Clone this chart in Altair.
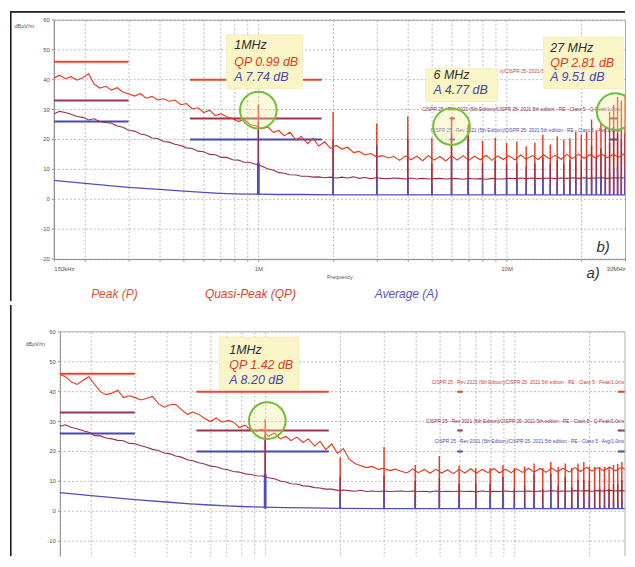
import altair as alt
import pandas as pd

FONT = "Liberation Sans"

# ---------------- data (frequencies in MHz, levels in dBµV/m) ----------------
FREQ = [
    0.150, 0.158, 0.167, 0.176, 0.186, 0.196, 0.207, 0.218, 0.230, 0.243,
    0.256, 0.270, 0.285, 0.301, 0.317, 0.335, 0.353, 0.373, 0.393, 0.415,
    0.437, 0.461, 0.487, 0.513, 0.542, 0.571, 0.603, 0.636, 0.671, 0.708,
    0.746, 0.788, 0.831, 0.876, 0.925, 0.975, 1.03, 1.09, 1.15, 1.21,
    1.27, 1.34, 1.42, 1.49, 1.58, 1.66, 1.75, 1.85, 1.95, 2.06,
    2.17, 2.29, 2.42, 2.55, 2.69, 2.84, 2.99, 3.16, 3.33, 3.51,
    3.71, 3.91, 4.12, 4.35, 4.59, 4.84, 5.11, 5.39, 5.69, 6.00,
    6.33, 6.68, 7.04, 7.43, 7.84, 8.27, 8.72, 9.20, 9.71, 10.2,
    10.8, 11.4, 12.0, 12.7, 13.4, 14.1, 14.9, 15.7, 16.6, 17.5,
    18.4, 19.5, 20.5, 21.7, 22.9, 24.1, 25.5, 26.9, 28.3, 29.9,
]

TOP_PEAK = [
    40.5, 41.5, 40.3, 41.0, 39.8, 40.6, 42.0, 38.5, 37.2, 37.8,
    36.5, 37.3, 35.8, 35.2, 34.5, 35.3, 33.8, 34.4, 33.2, 33.6,
    32.8, 33.2, 31.6, 32.0, 30.2, 30.6, 29.0, 29.8, 28.0, 28.6,
    27.6, 27.0, 26.0, 26.8, 25.0, 24.6, 23.5, 24.2, 22.4, 23.0,
    21.2, 22.4, 19.8, 21.0, 18.6, 20.4, 17.8, 19.2, 17.0, 18.0,
    16.8, 17.4, 15.6, 16.0, 14.8, 15.3, 14.2, 14.6, 13.8, 14.3,
    13.0, 14.5, 13.2, 14.4, 12.9, 14.6, 13.1, 14.3, 12.8, 14.5,
    13.1, 14.6, 13.0, 14.4, 13.2, 14.7, 13.0, 14.5, 13.3, 14.6,
    13.2, 14.8, 13.4, 14.6, 13.3, 14.9, 13.5, 14.7, 13.4, 15.0,
    13.6, 15.1, 13.7, 14.9, 13.8, 15.2, 13.9, 15.0, 14.0, 15.3,
]

TOP_QP = [
    28.5, 29.4, 29.0, 28.4, 27.7, 27.4, 26.5, 26.9, 25.9, 25.7,
    25.4, 24.5, 24.1, 23.0, 22.8, 21.8, 21.5, 20.5, 20.3, 19.3,
    19.1, 18.4, 18.0, 17.2, 17.0, 16.1, 15.9, 15.0, 14.9, 14.0,
    14.0, 13.2, 13.1, 12.4, 12.3, 11.7, 11.1, 10.2, 9.7, 8.9,
    8.7, 8.2, 8.1, 7.7, 7.7, 7.4, 7.5, 7.2, 7.4, 7.1,
    7.4, 7.1, 7.5, 7.0, 7.3, 6.9, 7.2, 7.0, 6.9, 7.1,
    7.0, 6.8, 7.1, 6.8, 7.0, 6.8, 6.9, 7.0, 6.8, 6.9,
    6.9, 6.7, 7.0, 6.8, 6.9, 6.7, 7.0, 6.8, 6.8, 7.0,
    6.9, 7.1, 6.9, 7.1, 6.9, 7.0, 7.1, 6.9, 7.1, 7.0,
    7.2, 7.0, 7.2, 7.0, 7.1, 7.2, 7.0, 7.2, 7.1, 7.2,
]

AVG_FREQ = [0.15, 0.2, 0.3, 0.4, 0.5, 0.6, 0.7, 0.8, 0.9, 0.98,
            1.2, 1.5, 2.0, 3.0, 5.0, 10.0, 20.0, 30.0]
TOP_AVG = [6.3, 5.3, 4.0, 3.3, 2.7, 2.3, 2.0, 1.8, 1.7, 1.7,
           1.6, 1.6, 1.5, 1.5, 1.5, 1.5, 1.5, 1.5]

HARM = [1, 2, 3, 4, 5, 6, 7, 8, 9, 10,
        11, 12, 13, 14, 15, 16, 17, 18, 19, 20,
        21, 22, 23, 24, 25, 26, 27, 28, 29, 30]

TOP_H_PEAK = [31.7, 29.3, 25.4, 27.7, 20.5, 27.7, 25.0, 19.5, 20.5, 18.8,
              19.3, 17.7, 19.0, 21.6, 18.3, 21.0, 20.0, 20.4, 22.7, 21.7,
              22.5, 26.7, 23.0, 25.4, 24.0, 29.3, 31.6, 34.3, 33.0, 35.0]
TOP_H_QP = [26.0, 20.0, 18.0, 20.0, 12.0, 22.0, 22.0, 12.0, 13.0, 12.0,
            12.0, 11.0, 12.0, 14.0, 12.0, 13.0, 12.0, 13.0, 14.0, 13.0,
            14.0, 18.0, 14.0, 17.0, 15.0, 19.0, 24.2, 22.0, 20.0, 22.0]
TOP_H_AVG = [12.3, 9.0, 7.0, 8.0, 5.0, 15.2, 7.0, 5.0, 5.0, 6.0,
             6.0, 5.0, 5.0, 7.0, 5.0, 6.0, 5.0, 6.0, 7.0, 6.0,
             7.0, 8.0, 7.0, 8.0, 7.0, 9.0, 10.5, 11.0, 9.0, 10.0]
TOP_BASE = 1.5

BOT_PEAK = [
    45.7, 45.0, 43.2, 42.4, 43.8, 45.0, 42.4, 40.0, 39.0, 39.5,
    40.5, 38.0, 38.6, 38.0, 37.2, 37.8, 38.4, 36.0, 34.8, 35.6,
    35.8, 34.0, 32.4, 33.2, 32.4, 31.0, 30.0, 31.2, 29.8, 30.4,
    29.8, 28.0, 28.8, 27.2, 26.8, 27.5, 25.0, 26.2, 24.2, 25.0,
    23.6, 24.8, 23.0, 24.2, 21.8, 23.4, 20.6, 22.5, 19.4, 21.0,
    17.5, 16.0, 15.2, 14.6, 15.0, 14.0, 14.4, 13.6, 14.1, 13.4,
    12.8, 14.2, 12.9, 14.0, 12.7, 14.1, 12.8, 13.9, 12.6, 14.0,
    12.8, 14.2, 12.7, 14.0, 12.9, 14.3, 12.8, 14.1, 12.9, 14.2,
    13.0, 14.4, 13.1, 14.3, 13.0, 14.5, 13.2, 14.4, 13.1, 14.6,
    13.3, 14.7, 13.4, 14.6, 13.5, 14.8, 13.5, 14.7, 13.6, 14.9,
]

BOT_QP = [
    28.4, 28.9, 28.0, 27.6, 26.9, 26.4, 25.3, 25.2, 24.5, 24.2,
    23.7, 23.6, 22.7, 22.6, 21.9, 21.4, 20.7, 20.3, 19.5, 19.2,
    18.5, 18.1, 17.2, 16.9, 16.2, 15.8, 15.1, 14.9, 14.2, 13.9,
    13.3, 13.1, 12.5, 12.3, 11.9, 11.8, 11.2, 10.9, 10.1, 9.8,
    9.2, 9.1, 8.5, 8.4, 7.9, 7.8, 7.4, 7.4, 7.0, 7.1,
    6.9, 6.7, 7.0, 6.6, 6.8, 6.6, 6.8, 6.6, 6.7, 6.8,
    6.6, 6.8, 6.6, 6.7, 6.5, 6.8, 6.6, 6.7, 6.6, 6.8,
    6.6, 6.7, 6.5, 6.8, 6.6, 6.7, 6.6, 6.8, 6.6, 6.7,
    6.7, 6.8, 6.6, 6.8, 6.7, 6.9, 6.7, 6.8, 6.7, 6.9,
    6.8, 6.9, 6.7, 6.9, 6.8, 7.0, 6.8, 6.9, 6.8, 7.0,
]

BOT_AVG = [6.2, 5.2, 3.9, 3.1, 2.5, 2.1, 1.8, 1.6, 1.5, 1.4,
           1.2, 1.1, 1.0, 0.9, 0.9, 0.9, 0.9, 0.9]

BOT_H_PEAK = [30.8, 18.0, 21.5, 15.5, 18.5, 15.2, 14.5, 14.5, 15.5, 14.5,
              15.0, 16.0, 14.5, 16.5, 14.8, 16.0, 14.5, 16.0, 16.5, 15.0,
              14.8, 14.8, 14.8, 14.8, 15.5, 15.8, 16.5, 17.0, 17.5, 25.0]
BOT_H_QP = [25.6, 11.5, 12.0, 10.2, 11.0, 9.2, 9.2, 9.2, 11.5, 7.5,
            8.5, 12.5, 7.5, 12.5, 8.5, 11.5, 8.0, 10.5, 10.5, 10.0,
            7.5, 7.5, 7.5, 7.5, 9.0, 9.2, 10.5, 12.0, 12.0, 20.0]
BOT_H_AVG = [12.5, 5.2, 6.8, 5.2, 6.5, 5.2, 4.0, 4.5, 6.0, 3.0,
             2.5, 4.5, 2.0, 8.5, 2.0, 6.0, 2.0, 4.5, 4.5, 5.0,
             1.8, 1.8, 2.0, 2.5, 3.0, 3.0, 4.0, 5.0, 5.0, 8.0]
BOT_BASE = 0.9

# CISPR 25 class 5 limit segments
LIM_F1 = [0.15, 0.53, 5.9, 26.0]
LIM_F2 = [0.30, 1.8, 6.2, 28.0]
LIM_PEAK = [46, 40, 40, 40]
LIM_QP = [33, 27, 27, 27]
LIM_AVG = [26, 20, 20, 20]

GRID_F = [0.15, 0.2, 0.3, 0.4, 0.5, 0.6, 0.7, 0.8, 0.9, 1, 2, 3, 4, 5, 6, 7, 8, 9, 10, 20, 30]
Y_TICKS = [-20, -10, 0, 10, 20, 30, 40, 50, 60]

CISPR_TXT = [
    "CISPR 25 - Rev 2021 (5th Edition)/CISPR 25- 2021 5th edition - RE - Class 5 - Peak/1.0ms",
    "CISPR 25 - Rev 2021 (5th Edition)/CISPR 25- 2021 5th edition - RE - Class 5 - Q-Peak/1.0ms",
    "CISPR 25 - Rev 2021 (5th Edition)/CISPR 25- 2021 5th edition - RE - Class 5 - Avg/1.0ms",
]
# in the upper panel only a fragment of the peak label shows between two note boxes
TOP_CISPR_TXT = ["n)/CISPR 25- 2021-5", CISPR_TXT[1], CISPR_TXT[2]]
TOP_CISPR_F = [9.36, 28.7, 28.7]
TOP_CISPR_DB = [42.7, 30.0, 22.7]
TOP_CISPR_ALIGN = ["left", "right", "right"]

# annotations (positions in MHz / dB)
TOP_BOX_F1 = [0.743, 4.72, 14.1]
TOP_BOX_F2 = [1.51, 9.2, 29.5]
TOP_BOX_D1 = [37.0, 32.7, 37.0]
TOP_BOX_D2 = [55.0, 43.7, 54.3]
TOP_NOTE_F = [0.80, 0.80, 0.80, 5.08, 5.08, 15.0, 15.0, 15.0]
TOP_NOTE_DB = [51.7, 46.0, 41.0, 41.7, 36.7, 50.7, 45.7, 41.0]
TOP_NOTE_TXT = ["1MHz", "QP 0.99 dB", "A 7.74 dB", "6 MHz", "A 4.77 dB",
                "27 MHz", "QP 2.81 dB", "A 9.51 dB"]
TOP_NOTE_KIND = ["f", "qp", "a", "f", "a", "f", "qp", "a"]
TOP_CIRC_F = [1.0, 6.0, 27.4]
TOP_CIRC_DB = [29.8, 24.3, 29.3]

BOT_BOX_F1 = [0.655]
BOT_BOX_F2 = [1.368]
BOT_BOX_D1 = [40.7]
BOT_BOX_D2 = [58.3]
BOT_NOTE_F = [0.718, 0.718, 0.718]
BOT_NOTE_DB = [54.0, 49.0, 44.0]
BOT_NOTE_TXT = ["1MHz", "QP 1.42 dB", "A 8.20 dB"]
BOT_NOTE_KIND = ["f", "qp", "a"]
BOT_CIRC_F = [1.02]
BOT_CIRC_DB = [30.3]
BOT_CISPR_TXT = CISPR_TXT
BOT_CISPR_F = [27.6, 27.6, 27.6]
BOT_CISPR_DB = [43.0, 29.7, 23.0]
BOT_CISPR_ALIGN = ["right", "right", "right"]

LEG_TXT = ["Peak (P)", "Quasi-Peak (QP)", "Average (A)"]
LEG_F = [0.263, 0.929, 3.95]
LEG_DB = [-31.7, -31.7, -31.7]
TAG_TXT = ["a)", "b)"]
TAG_F = [22.3, 24.5]
TAG_DB = [-24.7, -16.0]

# ---------------- styling ----------------
C_PEAK = "#e8341c"
C_QP = "#96304a"
C_AVG = "#4f4fbb"
C_PEAK_LIM = "#e8452c"
C_QP_LIM = "#9c3548"
C_AVG_LIM = "#4848b2"
NOTE_COL = {"f": "#2e2e2e", "qp": "#dc3c22", "a": "#4646aa"}
CISPR_COL = ["#c8403c", "#8c3048", "#4a4aaa"]

XLABEL_EXPR = ("datum.value == 0.15 ? '150kHz' : datum.value == 1 ? '1M' : "
               "datum.value == 10 ? '10M' : datum.value == 30 ? '30MHz' : ''")

ONE = alt.Data(values=[{"k": 1}])
W = 573


def panel(peak, qp, avg, h_peak, h_qp, h_avg, base, xmin, xmax, ymin, h,
          show_xlabels, x0, title_x, title_y, frame_y1, frame_y2,
          box, notes, circ, cispr, extras, top_chart):
    xs = alt.Scale(type="log", domain=[xmin, xmax], nice=False, zero=False)
    ys = alt.Scale(domain=[ymin, 60], nice=False, zero=False)
    gx = [v for v in GRID_F if v <= xmax]
    gy = [v for v in Y_TICKS if v >= ymin]
    gkw = dict(grid=True, gridDash=[2, 2], gridColor="#a9a9a9", gridWidth=0.8)
    if show_xlabels:
        xaxis = alt.Axis(values=gx, labelExpr=XLABEL_EXPR, labelOverlap=False,
                         labelFlush=True, domainColor="#8c8c8c", tickColor="#8c8c8c",
                         tickSize=2, labelFontSize=6, labelFont=FONT, labelColor="#555555",
                         labelPadding=4, title="Frequency", titleFont=FONT,
                         titleFontSize=5.5, titleFontWeight="normal",
                         titleColor="#555555", titlePadding=3, **gkw)
    else:
        xaxis = alt.Axis(values=gx, labels=False, ticks=False, domain=False,
                         title=None, **gkw)
    yaxis = alt.Axis(values=gy, grid=False, labels=False, ticks=False,
                     domainColor="#8c8c8c", offset=-x0,
                     title="dBµV/m", titleAngle=0, titleAlign="left",
                     titleBaseline="middle", titleX=title_x, titleY=title_y,
                     titleFont=FONT, titleFontSize=5.5, titleFontWeight="normal",
                     titleColor="#555555")

    def X(f):
        return alt.X(f, type="quantitative", scale=xs)

    def Y(f):
        return alt.Y(f, type="quantitative", scale=ys)

    # horizontal dotted grid, tick marks and tick labels of the level axis
    gdf = pd.DataFrame({"db": gy, "t": [str(v) for v in gy]})
    hgrid = alt.Chart(gdf).mark_rule(strokeDash=[2, 2], color="#a9a9a9",
                                     strokeWidth=0.8).encode(
        x=alt.value(x0), x2=alt.value(W), y=Y("db"))
    yticks = alt.Chart(gdf).mark_rule(color="#8c8c8c", strokeWidth=1).encode(
        x=alt.value(x0 - 2), x2=alt.value(x0), y=Y("db"))
    ylabels = alt.Chart(gdf).mark_text(align="right", baseline="middle", fontSize=6,
                                       font=FONT, color="#555555", dx=-4).encode(
        x=alt.value(x0), y=Y("db"), text="t:N")

    lim_df = pd.DataFrame({
        "f1": LIM_F1 * 3, "f2": LIM_F2 * 3,
        "v": LIM_PEAK + LIM_QP + LIM_AVG,
        "c": [C_PEAK_LIM] * 4 + [C_QP_LIM] * 4 + [C_AVG_LIM] * 4,
    })
    limits = alt.Chart(lim_df).mark_rule(strokeWidth=2, clip=True).encode(
        x=alt.X("f1", type="quantitative", scale=xs, axis=xaxis),
        x2="f2",
        y=alt.Y("v", type="quantitative", scale=ys, axis=yaxis),
        color=alt.Color("c:N", scale=None),
    )

    cis_df = pd.DataFrame({"f": cispr[0], "db": cispr[1], "t": cispr[2],
                           "c": CISPR_COL, "a": cispr[3]})
    cis_layers = []
    for al in ["left", "right"]:
        sub = cis_df[cis_df["a"] == al]
        if len(sub):
            cis_layers.append(alt.Chart(sub).mark_text(
                align=al, baseline="middle", fontSize=4.8, font=FONT).encode(
                x=X("f"), y=Y("db"), text="t:N", color=alt.Color("c:N", scale=None)))

    n = len(HARM)
    kinds = ["peak"] * n + ["qp"] * n + ["avg"] * n
    sp_df = pd.DataFrame({
        "f": HARM * 3, "lo": [base] * (3 * n),
        "hi": h_peak + h_qp + h_avg,
        "c": [C_PEAK] * n + [C_QP] * n + [C_AVG] * n,
    })
    # the 1 MHz average line is drawn bold in the original
    sp_df["w"] = [2.8 if (k == "avg" and f == 1) else 1.4
                  for k, f in zip(kinds, sp_df["f"])]
    spikes = alt.Chart(sp_df).mark_rule(clip=True).encode(
        x=X("f"), y=Y("lo"), y2="hi", color=alt.Color("c:N", scale=None),
        strokeWidth=alt.StrokeWidth("w:Q", scale=None))

    avg_l = alt.Chart(pd.DataFrame({"f": AVG_FREQ, "db": avg})).mark_line(
        color=C_AVG, strokeWidth=1.3, clip=True).encode(x=X("f"), y=Y("db"))
    qp_l = alt.Chart(pd.DataFrame({"f": FREQ, "db": qp})).mark_line(
        color=C_QP, strokeWidth=1.1, clip=True).encode(x=X("f"), y=Y("db"))
    pk_l = alt.Chart(pd.DataFrame({"f": FREQ, "db": peak})).mark_line(
        color=C_PEAK, strokeWidth=1.1, clip=True).encode(x=X("f"), y=Y("db"))

    box_df = pd.DataFrame({"f1": box[0], "f2": box[1], "d1": box[2], "d2": box[3]})
    boxes = alt.Chart(box_df).mark_rect(fill="#f9f5c6", stroke="#efe8b2",
                                        strokeWidth=0.6, clip=True).encode(
        x=X("f1"), x2="f2", y=Y("d1"), y2="d2")

    note_df = pd.DataFrame({"f": notes[0], "db": notes[1], "t": notes[2],
                            "c": [NOTE_COL[k] for k in notes[3]]})
    note_t = alt.Chart(note_df).mark_text(align="left", baseline="middle", fontSize=12.5,
                                          fontStyle="italic", font=FONT).encode(
        x=X("f"), y=Y("db"), text="t:N", color=alt.Color("c:N", scale=None))

    circ_df = pd.DataFrame({"f": circ[0], "db": circ[1]})
    circles = alt.Chart(circ_df).mark_circle(size=1350, fill="#f4ee9c", fillOpacity=0.35,
                                             stroke="#6dbf3a", strokeWidth=2,
                                             strokeOpacity=1, opacity=1,
                                             clip=True).encode(
        x=X("f"), y=Y("db"))

    layers = ([hgrid, limits, yticks, ylabels] + cis_layers +
              [spikes, avg_l, qp_l, pk_l, boxes, note_t, circles])

    if extras:
        leg_df = pd.DataFrame({"f": LEG_F, "db": LEG_DB, "t": LEG_TXT,
                               "c": ["#e0502e", "#d8432f", "#5555b5"]})
        layers.append(alt.Chart(leg_df).mark_text(
            align="center", baseline="middle", fontSize=12, fontStyle="italic",
            font=FONT).encode(x=X("f"), y=Y("db"), text="t:N",
                              color=alt.Color("c:N", scale=None)))
        tag_df = pd.DataFrame({"f": TAG_F, "db": TAG_DB, "t": TAG_TXT})
        layers.append(alt.Chart(tag_df).mark_text(
            align="center", baseline="middle", fontSize=15, fontStyle="italic",
            font=FONT, color="#333333").encode(x=X("f"), y=Y("db"), text="t:N"))

    # outer black frame of the figure
    layers.append(alt.Chart(ONE).mark_rule(color="#1e1e1e", strokeWidth=1.6).encode(
        x=alt.value(-43.2), y=alt.value(frame_y1), y2=alt.value(frame_y2)))
    if top_chart:
        layers.append(alt.Chart(ONE).mark_rule(color="#1e1e1e", strokeWidth=2).encode(
            x=alt.value(-44), x2=alt.value(W), y=alt.value(-8)))
        view = alt.ViewBackground(stroke="#a8a8a8", strokeWidth=1)
    else:
        layers.append(alt.Chart(ONE).mark_rule(color="#b0b0b0", strokeWidth=1).encode(
            x=alt.value(x0), x2=alt.value(W), y=alt.value(0)))
        layers.append(alt.Chart(ONE).mark_rule(color="#b0b0b0", strokeWidth=1).encode(
            x=alt.value(W), y=alt.value(0), y2=alt.value(h)))
        view = alt.ViewBackground(stroke="transparent")

    return alt.layer(*layers).properties(width=W, height=h, view=view)


top = panel(TOP_PEAK, TOP_QP, TOP_AVG, TOP_H_PEAK, TOP_H_QP, TOP_H_AVG, TOP_BASE,
            0.15, 30.0, -20, 240, True, 0, -40, 6, -8, 282,
            (TOP_BOX_F1, TOP_BOX_F2, TOP_BOX_D1, TOP_BOX_D2),
            (TOP_NOTE_F, TOP_NOTE_DB, TOP_NOTE_TXT, TOP_NOTE_KIND),
            (TOP_CIRC_F, TOP_CIRC_DB),
            (TOP_CISPR_F, TOP_CISPR_DB, TOP_CISPR_TXT, TOP_CISPR_ALIGN), True, True)

# the lower panel's 150 kHz edge sits 6 px right of the upper one's
bottom = panel(BOT_PEAK, BOT_QP, BOT_AVG, BOT_H_PEAK, BOT_H_QP, BOT_H_AVG, BOT_BASE,
               0.1419, 27.8, -15, 225, False, 6, -35, 12, -27, 225,
               (BOT_BOX_F1, BOT_BOX_F2, BOT_BOX_D1, BOT_BOX_D2),
               (BOT_NOTE_F, BOT_NOTE_DB, BOT_NOTE_TXT, BOT_NOTE_KIND),
               (BOT_CIRC_F, BOT_CIRC_DB),
               (BOT_CISPR_F, BOT_CISPR_DB, BOT_CISPR_TXT, BOT_CISPR_ALIGN), False, False)

chart = alt.vconcat(top, bottom, spacing=0).properties(
    padding={"left": 0, "top": 1, "right": 0, "bottom": 0},
    background="white",
)

chart.save("out.html", embed_options={"renderer": "svg", "actions": False})
